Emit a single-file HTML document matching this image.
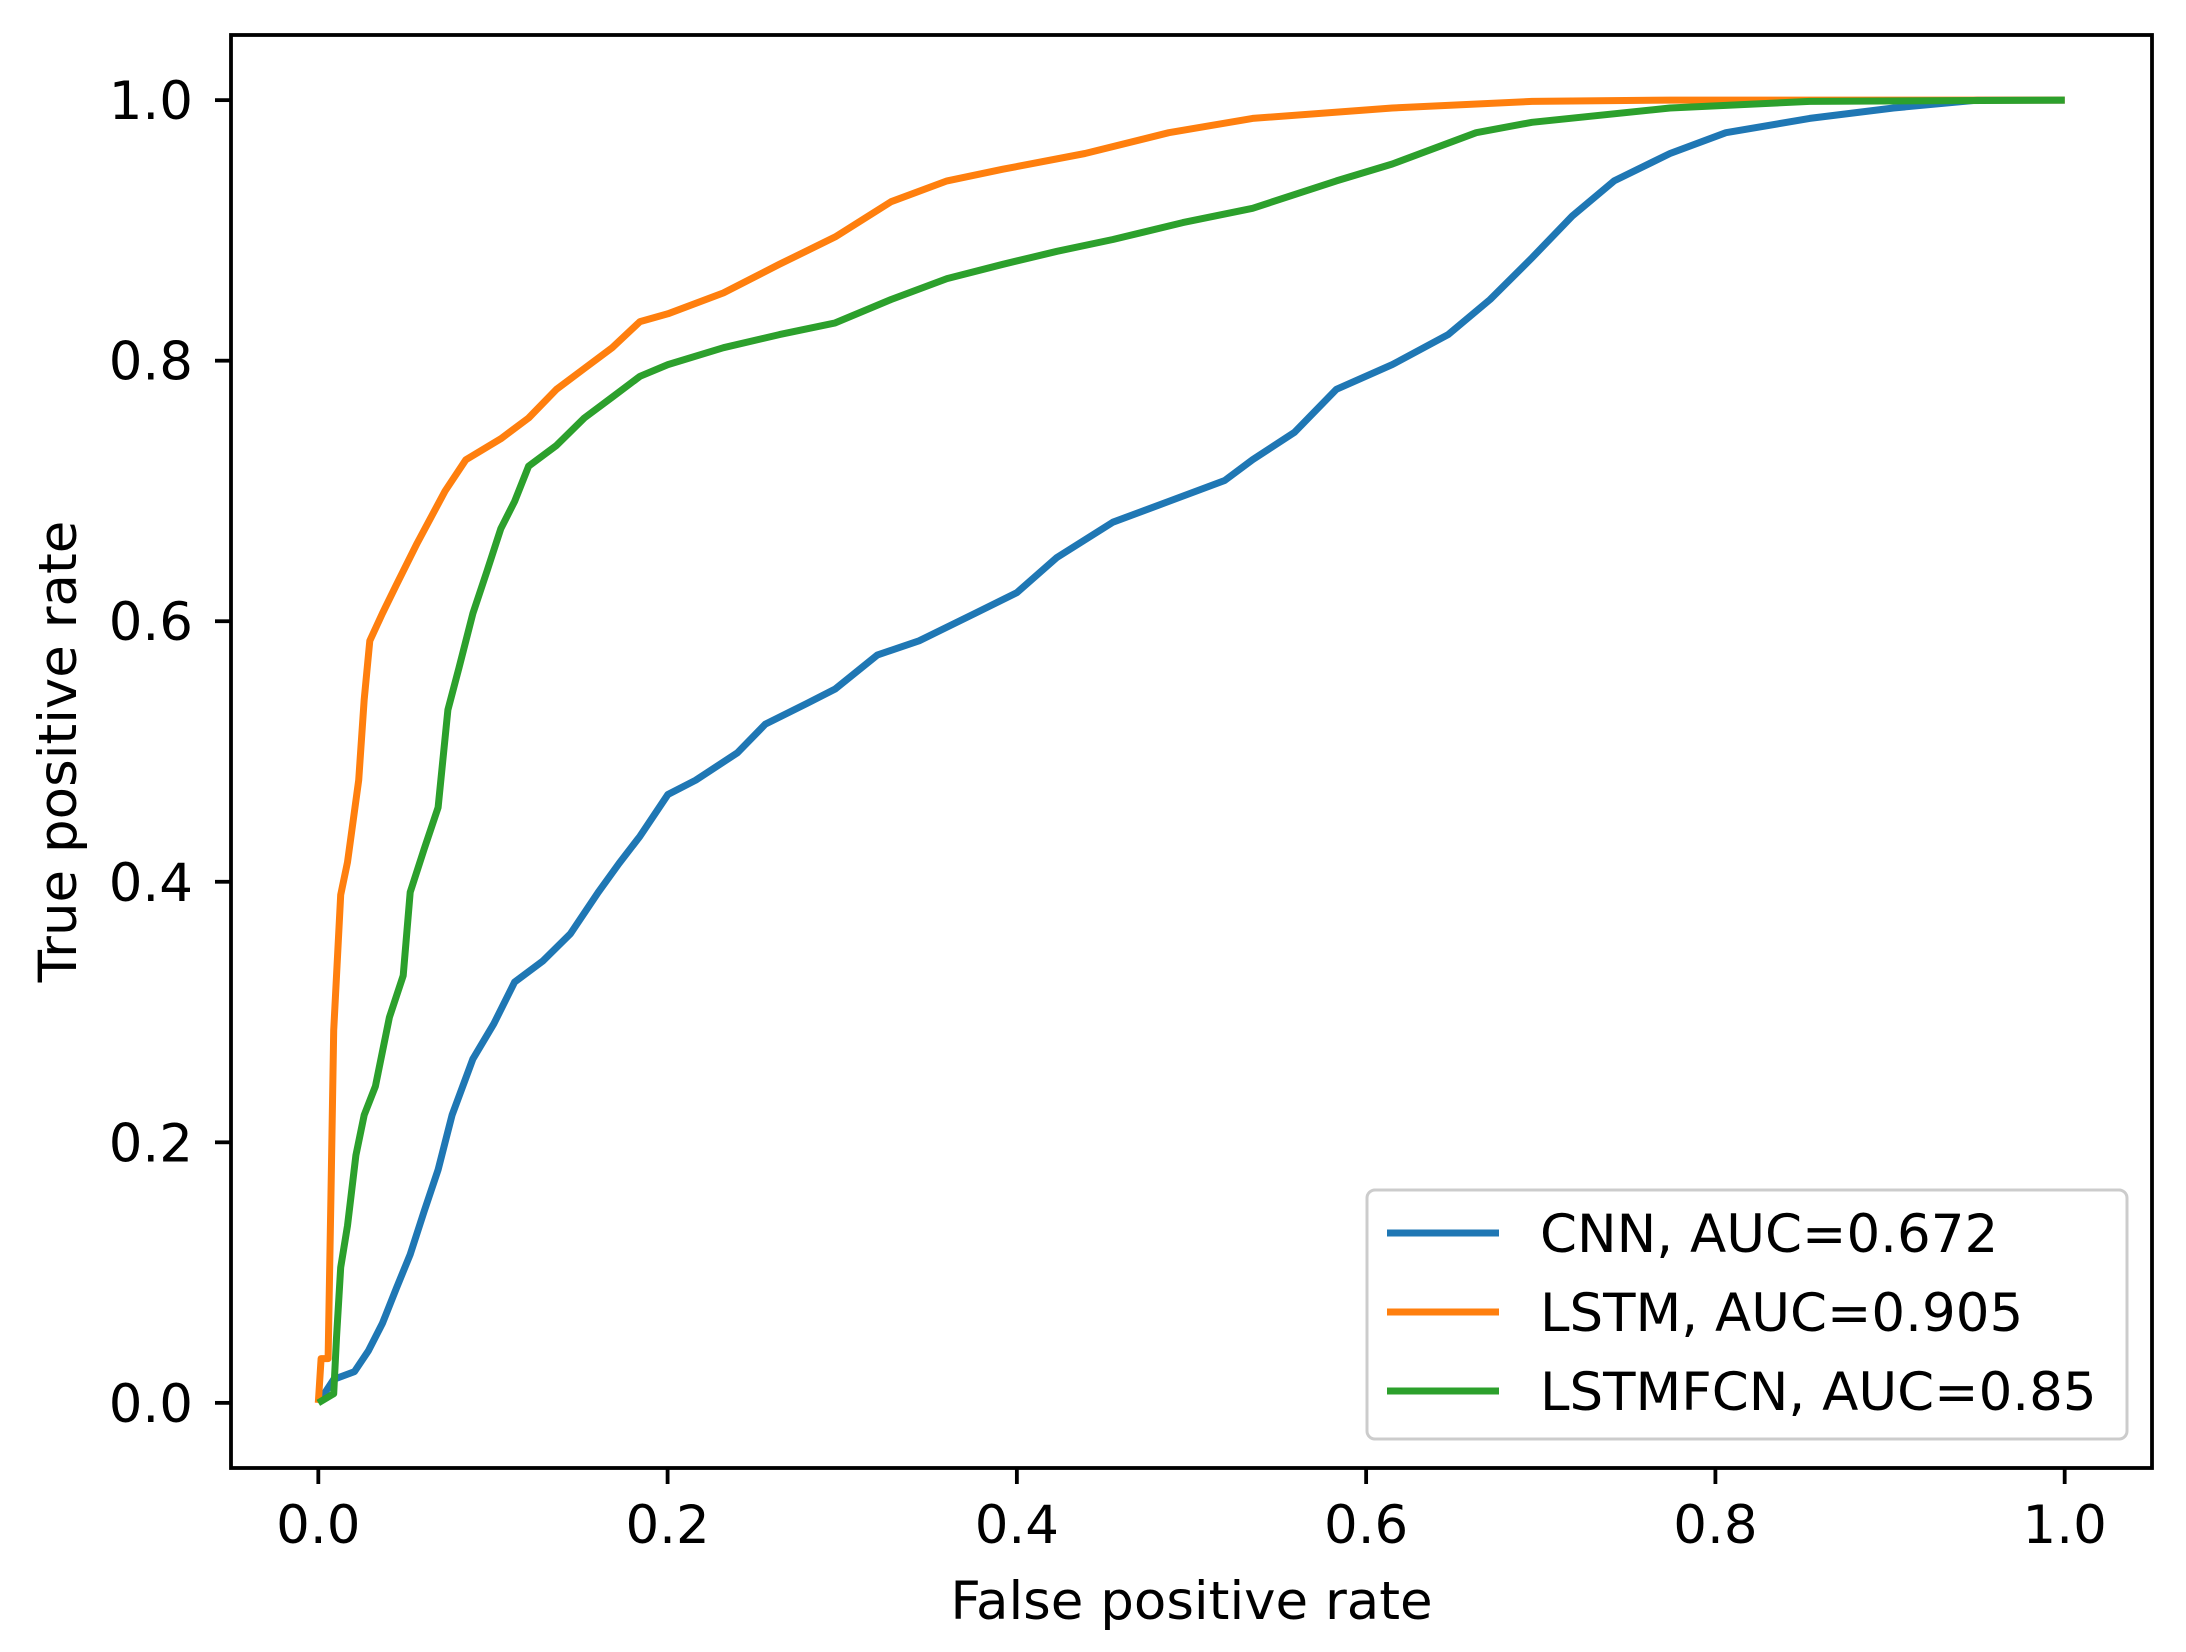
<!DOCTYPE html>
<html><head><meta charset="utf-8"><style>
html,body{margin:0;padding:0;background:#fff}
svg{display:block;font-family:"DejaVu Sans","Liberation Sans",sans-serif}
</style></head><body>
<svg id="chart" width="2186" height="1652" viewBox="0 0 2186 1652"></svg>
<script>
const xTicks=[0,0.2,0.4,0.6,0.8,1.0];
const yTicks=[0,0.2,0.4,0.6,0.8,1.0];
const tickLabels=["0.0","0.2","0.4","0.6","0.8","1.0"];
const seriesNames=["CNN, AUC=0.672","LSTM, AUC=0.905","LSTMFCN, AUC=0.85"];
const cnnFpr=[0,0.0088,0.0207,0.0287,0.0367,0.0447,0.0526,0.0606,0.0686,0.0766,0.0885,0.1005,0.1124,0.1284,0.1443,0.1603,0.1722,0.1842,0.2002,0.2161,0.24,0.256,0.28,0.296,0.32,0.344,0.376,0.4,0.423,0.455,0.487,0.519,0.535,0.559,0.583,0.615,0.647,0.671,0.695,0.718,0.742,0.774,0.806,0.854,0.902,0.95,1];
const cnnTpr=[0,0.018,0.024,0.04,0.061,0.088,0.114,0.147,0.179,0.221,0.264,0.291,0.323,0.339,0.36,0.392,0.414,0.435,0.467,0.478,0.499,0.521,0.537,0.548,0.574,0.585,0.606,0.622,0.649,0.676,0.692,0.708,0.724,0.745,0.778,0.797,0.82,0.847,0.879,0.911,0.938,0.959,0.975,0.986,0.994,1,1];
const lstmFpr=[0,0.0016,0.0056,0.0072,0.0088,0.0128,0.0167,0.0231,0.0263,0.0295,0.0367,0.0447,0.0566,0.0726,0.0845,0.1045,0.1204,0.1364,0.1523,0.1683,0.1842,0.2002,0.232,0.264,0.296,0.328,0.36,0.392,0.439,0.487,0.535,0.615,0.695,0.774,1];
const lstmTpr=[0,0.034,0.034,0.157,0.286,0.39,0.415,0.478,0.54,0.585,0.606,0.628,0.66,0.70,0.724,0.74,0.756,0.778,0.794,0.81,0.83,0.836,0.852,0.874,0.895,0.922,0.938,0.947,0.959,0.975,0.986,0.994,0.999,1,1];
const fcnFpr=[0,0.0088,0.0104,0.0128,0.0167,0.0215,0.0263,0.0327,0.0407,0.0486,0.0526,0.0606,0.0686,0.0742,0.0805,0.0885,0.0965,0.1045,0.1124,0.1204,0.1364,0.1523,0.1683,0.1842,0.2002,0.232,0.264,0.296,0.328,0.36,0.392,0.423,0.455,0.495,0.535,0.583,0.615,0.663,0.695,0.774,0.854,1];
const fcnTpr=[0,0.007,0.05,0.104,0.136,0.19,0.221,0.243,0.296,0.328,0.392,0.425,0.457,0.532,0.564,0.606,0.638,0.671,0.692,0.719,0.735,0.756,0.772,0.788,0.797,0.81,0.82,0.829,0.847,0.863,0.874,0.884,0.893,0.906,0.917,0.938,0.951,0.975,0.983,0.994,0.999,1];

const NS="http://www.w3.org/2000/svg";
const svg=document.getElementById('chart');
const L=231,R=2152,T=35,B=1468;
const FS=53;
const xs=v=>L+(v+0.05)/1.1*(R-L);
const ys=v=>B-(v+0.05)/1.1*(B-T);
function mk(tag,attrs,parent){const e=document.createElementNS(NS,tag);for(const k in attrs)e.setAttribute(k,attrs[k]);(parent||svg).appendChild(e);return e;}
const colors=["#1f77b4","#ff7f0e","#2ca02c"];
const series=[[cnnFpr,cnnTpr],[lstmFpr,lstmTpr],[fcnFpr,fcnTpr]];
const sNames=["cnn-roc-line","lstm-roc-line","lstmfcn-roc-line"];
series.forEach((s,i)=>{
  const pts=s[0].map((x,j)=>xs(x).toFixed(1)+","+ys(s[1][j]).toFixed(1)).join(" ");
  const p=mk('polyline',{points:pts,fill:'none',stroke:colors[i],'stroke-width':7,'stroke-linejoin':'round'});
  
  
});
const frame=mk('rect',{x:L,y:T,width:R-L,height:B-T,fill:'none',stroke:'#000','stroke-width':3.8});


xTicks.forEach((v,i)=>{
  const t=mk('line',{x1:xs(v),x2:xs(v),y1:B,y2:B+16,stroke:'#000','stroke-width':3.8});
  
  
  const tx=mk('text',{x:xs(v),y:1543,'text-anchor':'middle','font-size':FS});
  tx.textContent=tickLabels[i];
  
  
});
yTicks.forEach((v,i)=>{
  const t=mk('line',{x1:L-16,x2:L,y1:ys(v),y2:ys(v),stroke:'#000','stroke-width':3.8});
  
  
  const tx=mk('text',{x:L-38,y:ys(v)+19,'text-anchor':'end','font-size':FS});
  tx.textContent=tickLabels[i];
  
  
});
const xl=mk('text',{x:(L+R)/2,y:1619,'text-anchor':'middle','font-size':FS});
xl.textContent="False positive rate";


const yl=mk('text',{x:0,y:0,'text-anchor':'middle','font-size':FS,transform:`translate(76,${(T+B)/2}) rotate(-90)`});
yl.textContent="True positive rate";


const lg=mk('g',{});


const lb=mk('rect',{x:1367,y:1190,width:760,height:249,rx:8,fill:'#fff','fill-opacity':0.8,stroke:'#ccc','stroke-width':3},lg);


seriesNames.forEach((n,i)=>{
  const y=1233+i*79;
  const ln=mk('line',{x1:1387,x2:1499,y1:y,y2:y,stroke:colors[i],'stroke-width':7},lg);
  
  
  const t=mk('text',{x:1540,y:y+19,'font-size':FS},lg);
  t.textContent=n;
  
  
});
</script>
</body></html>
